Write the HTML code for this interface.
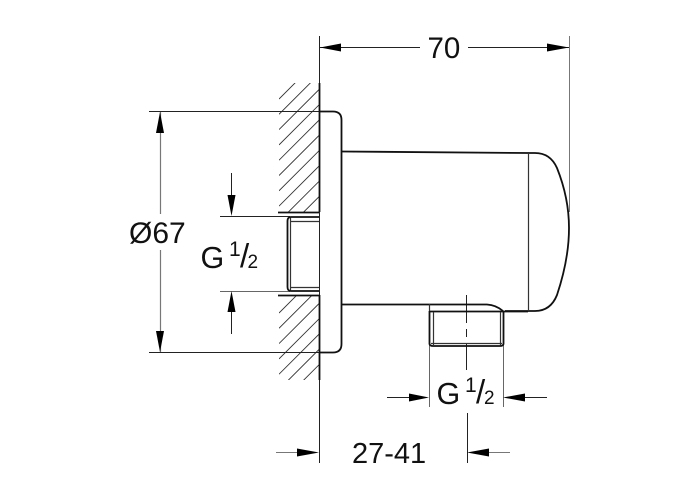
<!DOCTYPE html>
<html>
<head>
<meta charset="utf-8">
<style>
html,body{margin:0;padding:0;background:#fff;width:700px;height:500px;overflow:hidden}
svg{display:block}
text{font-family:"Liberation Sans",sans-serif;fill:#111}
</style>
</head>
<body>
<svg width="700" height="500" viewBox="0 0 700 500" xmlns="http://www.w3.org/2000/svg">
<defs>
<clipPath id="hu"><rect x="279" y="83" width="40" height="129"/></clipPath>
<clipPath id="hl"><rect x="279" y="295" width="40" height="85"/></clipPath>
</defs>
<!-- hatching -->
<g stroke="#333" stroke-width="0.9" clip-path="url(#hu)">
<path d="M279 99L319 59M279 114.300L319 74.300M279 129.600L319 89.600M279 144.900L319 104.900M279 160.200L319 120.200M279 175.500L319 135.500M279 190.800L319 150.800M279 206.100L319 166.100M279 221.400L319 181.400M279 236.700L319 196.700M279 252L319 212"/>
</g>
<g stroke="#333" stroke-width="0.9" clip-path="url(#hl)">
<path d="M279 313L319 273M279 328.300L319 288.300M279 343.600L319 303.600M279 358.900L319 318.900M279 374.200L319 334.200M279 389.500L319 349.500M279 404.800L319 364.800M279 420.100L319 380.100"/>
</g>
<!-- wall line and extension lines -->
<g fill="none" stroke="#222" stroke-width="1">
<path d="M319.500 36V463"/>
<path d="M569.500 36V212" stroke="#777"/>
<path d="M149 111.500H319"/>
<path d="M149 352.500H319"/>
<path d="M220 216.500H290"/>
<path d="M220 291.500H290" stroke="#666"/>
<path d="M429.500 345V407" stroke="#666"/>
<path d="M503.500 345V407" stroke="#666"/>
<path d="M467.500 413V463"/>
<path d="M466.500 295V323M466.500 329V337M466.500 343V370"/>
<path d="M160.500 112V214M160.500 250V352" stroke="#777" stroke-width="1.200"/>
<path d="M231.500 173V197M231.500 310V334"/>
<path d="M320 47.500H420M468 47.500H569"/>
<path d="M387 397.500H410M523 397.500H547"/>
<path d="M276 452.500H300" stroke="#777"/>
<path d="M488 452.500H510" stroke="#777"/>
</g>
<g fill="none" stroke="#111" stroke-width="1.800">
<path d="M319.500 83V212M319.500 295V380"/>
<path d="M278 212.500H319M278 295.500H319"/>
<path d="M319 111.500H333Q341.500 111.500 341.500 120V344Q341.500 352.500 333 352.500H319"/>
<path d="M341.500 151.500L528 153H535C546 153 553 159 557 168C565 188 569 208 569 228C569 250 564 274 557 295C553 305 546 311 535 311H505"/>
<path d="M341.500 304.500H487Q496 305 503 311"/>
<path d="M429.500 311V344Q430 346 433 346H500Q503 346 503.500 344V311"/>
<path d="M429.500 311.500H528"/>
<path d="M319 217H291Q287.500 217 287.500 221V287Q287.500 291 291 291H319"/>
</g>
<g fill="none" stroke="#333" stroke-width="1.200">
<path d="M528.500 153V311"/>
<path d="M290.500 218V290M291 221.500H319M291 287.500H319"/>
<path d="M433.500 312V345M500.500 312V345M431 343.500H502"/>
<path d="M429.500 304V311"/>
</g>
<!-- arrowheads -->
<g fill="#000">
<path d="M320 47.500L341 43.500V51.500Z"/>
<path d="M569 47.500L547 43.500V51.500Z"/>
<path d="M160 112L156 133H164Z"/>
<path d="M160 352L156 331H164Z"/>
<path d="M231.500 216L227.500 195H235.500Z"/>
<path d="M231.500 291L227.500 312H235.500Z"/>
<path d="M429 397.500L409 393.500V401.500Z"/>
<path d="M503 397.500L525 393.500V401.500Z"/>
<path d="M319 452.500L297 448.500V456.500Z"/>
<path d="M467 452.500L489 448.500V456.500Z"/>
</g>
<!-- labels -->
<text x="427.500" y="58" font-size="29.500">70</text>
<text x="129" y="243" font-size="30">Ø67</text>
<text x="352" y="463" font-size="29">27-41</text>
<text x="200.500" y="268" font-size="30.500">G</text>
<text x="229" y="256" font-size="21">1</text>
<text x="240" y="267" font-size="33">/</text>
<text x="247.500" y="268" font-size="19">2</text>
<text x="436.500" y="404" font-size="30.500">G</text>
<text x="465" y="392" font-size="21">1</text>
<text x="476" y="403" font-size="33">/</text>
<text x="484" y="404" font-size="19">2</text>
</svg>
</body>
</html>
